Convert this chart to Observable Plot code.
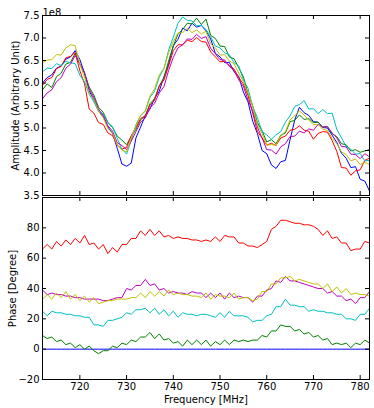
<!DOCTYPE html>
<html><head><meta charset="utf-8">
<script src="https://cdn.jsdelivr.net/npm/d3@7"></script>
<script src="https://cdn.jsdelivr.net/npm/@observablehq/plot@0.6"></script>
<style>
body{margin:0;background:#fff;}
#chart{position:relative;width:374px;height:408px;}
#chart svg{position:absolute;left:0;}
</style>
</head><body><div id="chart"></div>
<script>
const freqMHz = [712,713,714,715,716,717,718,719,720,721,722,723,724,725,726,727,728,729,730,731,732,733,734,735,736,737,738,739,740,741,742,743,744,745,746,747,748,749,750,751,752,753,754,755,756,757,758,759,760,761,762,763,764,765,766,767,768,769,770,771,772,773,774,775,776,777,778,779,780,781,782];
const seriesNames = ["blue","green","red","cyan","magenta","yellow"];
const seriesColors = ["#0000ff","#008000","#ff0000","#00bfbf","#bf00bf","#bfbf00"];
const freqTicks = [720,730,740,750,760,770,780];
const ampTicks = [3.5,4.0,4.5,5.0,5.5,6.0,6.5,7.0,7.5];
const phaseTicks = [-20,0,20,40,60,80,100];
const phaseTickLabels = [-20,0,20,40,60,80];

// Amplitude in units of 1e8
const ampBlue = [6.00,6.12,6.18,6.33,6.38,6.53,6.58,6.72,6.52,6.22,5.82,5.63,5.37,5.25,5.02,4.88,4.55,4.20,4.15,4.22,4.78,5.02,5.28,5.42,5.66,5.82,6.14,6.42,6.83,6.97,7.22,7.16,7.33,7.24,7.28,7.16,6.98,6.66,6.58,6.45,6.46,6.25,6.15,5.80,5.58,5.15,4.88,4.50,4.43,4.18,4.10,4.25,4.28,4.74,5.18,5.46,5.34,5.28,5.14,5.13,5.01,5.00,4.84,4.68,4.44,4.33,4.12,4.14,3.86,3.82,3.60];
const ampGreen = [5.85,5.98,5.90,6.14,6.22,6.42,6.46,6.66,6.42,6.21,5.91,5.73,5.46,5.35,5.12,5.01,4.82,4.73,4.63,4.81,4.97,5.18,5.27,5.54,5.65,5.94,6.12,6.49,6.82,7.09,7.19,7.33,7.31,7.44,7.30,7.42,7.06,6.99,6.82,6.81,6.58,6.54,6.34,6.14,5.76,5.49,5.12,4.94,4.69,4.74,4.65,4.84,4.89,5.14,5.17,5.29,5.19,5.21,5.12,5.13,5.02,5.03,4.87,4.81,4.65,4.63,4.49,4.52,4.46,4.49,4.52];
const ampRed = [5.95,6.08,6.12,6.32,6.37,6.56,6.59,6.68,6.27,5.98,5.42,5.33,5.12,5.08,4.89,4.83,4.62,4.53,4.57,4.83,5.02,5.21,5.27,5.51,5.62,5.93,6.07,6.38,6.72,6.85,6.85,6.95,6.92,7.01,6.92,6.91,6.69,6.58,6.47,6.48,6.39,6.31,6.12,5.98,5.72,5.33,4.92,4.78,4.62,4.66,4.61,4.78,4.82,4.95,4.97,5.05,4.95,4.93,4.75,4.88,4.92,4.91,4.72,4.48,4.12,4.11,3.95,4.05,4.07,4.28,4.33];
const ampCyan = [6.25,6.33,6.32,6.43,6.39,6.48,6.45,6.43,6.17,6.03,5.75,5.58,5.37,5.31,5.12,5.03,4.77,4.53,4.42,4.73,5.07,5.28,5.37,5.68,5.82,6.13,6.32,6.73,7.02,7.33,7.47,7.39,7.38,7.27,7.28,7.19,7.03,6.82,6.78,6.67,6.63,6.45,6.38,6.07,5.88,5.47,5.23,4.92,4.85,4.75,4.85,4.92,5.13,5.27,5.48,5.52,5.61,5.42,5.43,5.32,5.41,5.32,5.33,4.97,4.78,4.59,4.53,4.42,4.43,4.27,4.28];
const ampMagenta = [5.65,5.78,5.85,6.03,6.12,6.33,6.42,6.61,6.42,6.23,5.87,5.68,5.42,5.28,5.05,4.93,4.67,4.61,4.52,4.71,4.92,5.13,5.22,5.45,5.55,5.78,5.92,6.28,6.57,6.78,6.85,6.98,6.97,7.08,6.99,7.03,6.77,6.65,6.52,6.51,6.37,6.28,6.07,5.93,5.62,5.38,5.02,4.78,4.52,4.51,4.42,4.58,4.65,4.81,4.82,4.93,4.89,4.98,4.95,5.08,5.02,5.03,4.89,4.78,4.59,4.58,4.42,4.41,4.32,4.43,4.36];
const ampYellow = [6.45,6.51,6.52,6.63,6.62,6.78,6.85,6.83,6.42,6.13,5.77,5.63,5.37,5.23,4.99,4.88,4.62,4.51,4.47,4.78,5.05,5.28,5.39,5.71,5.87,6.18,6.32,6.68,6.92,7.11,7.12,7.21,7.12,7.18,7.09,7.15,6.87,6.78,6.62,6.63,6.49,6.43,6.22,6.03,5.77,5.48,5.07,4.88,4.62,4.63,4.62,4.83,4.92,5.18,5.27,5.38,5.29,5.18,5.07,5.08,4.97,4.95,4.77,4.65,4.47,4.41,4.27,4.31,4.19,4.23,4.19];

// Phase in degrees
const phaseBlue = [0,0,0,0,0,0,0,0,0,0,0,0,0,0,0,0,0,0,0,0,0,0,0,0,0,0,0,0,0,0,0,0,0,0,0,0,0,0,0,0,0,0,0,0,0,0,0,0,0,0,0,0,0,0,0,0,0,0,0,0,0,0,0,0,0,0,0,0,0,0,0];
const phaseGreen = [9,7,8,5,6,3,4,1,3,0,2,-1,-3,-1,-1,2,1,4,3,6,5,8,8,11,7,10,6,7,4,5,2,6,3,6,3,6,2,5,3,6,3,6,5,6,5,6,6,9,8,12,12,16,15,15,12,13,10,11,8,9,6,7,3,4,3,4,1,4,3,6,4];
const phaseRed = [66,69,66,71,68,72,69,73,70,75,69,70,66,69,63,67,64,69,69,73,73,78,75,79,75,78,74,75,73,74,73,73,72,72,71,72,71,74,71,75,74,74,70,70,68,68,67,69,71,79,81,85,85,84,83,83,82,82,81,79,75,78,73,74,70,70,65,66,66,71,70];
const phaseCyan = [25,22,25,24,24,23,23,22,22,21,21,16,16,15,19,19,20,21,24,23,26,26,27,24,27,23,26,22,25,21,24,23,23,22,23,23,22,21,24,21,25,22,22,22,21,18,19,19,22,23,28,28,33,29,29,28,28,25,26,25,25,24,24,23,23,20,20,19,23,23,27];
const phaseMagenta = [39,36,37,36,36,35,35,34,34,33,33,33,33,32,32,33,34,34,40,39,42,42,46,42,43,39,40,37,38,37,37,36,38,37,37,34,37,34,37,33,37,34,35,34,34,31,35,35,39,40,45,44,48,45,45,44,43,42,41,40,40,37,38,35,35,32,33,30,34,34,38];
const phaseYellow = [33,36,33,37,34,38,33,36,32,35,31,34,30,31,32,32,33,33,33,34,34,37,34,38,35,38,35,39,36,37,36,36,35,35,34,37,33,36,35,35,34,37,33,34,34,32,33,38,38,43,43,47,47,48,45,46,45,44,43,43,40,43,38,41,37,40,36,37,36,36,35];

const ampSeries = [ampBlue, ampGreen, ampRed, ampCyan, ampMagenta, ampYellow];
const phaseSeries = [phaseBlue, phaseGreen, phaseRed, phaseCyan, phaseMagenta, phaseYellow];

function toRows(arr, name) { return arr.map((v, i) => ({f: freqMHz[i], v, s: name})); }

const W = 374, ML = 42, MR = 5;
const TL = 4; // tick length px
const plotW = W - ML - MR;
const font = {fontFamily: "DejaVu Sans", fontSize: "10px", color: "black"};

function lineMarks(series) {
  return series.map((arr, k) => Plot.line(toRows(arr, seriesNames[k]), {x: "f", y: "v", stroke: seriesColors[k], strokeWidth: 1}));
}

// Top panel: amplitude
const topH = 196, topMT = 15, topMB = 1;
const topInner = topH - topMT - topMB;
const topPlot = Plot.plot({
  width: W, height: topH,
  marginLeft: ML, marginRight: MR, marginTop: topMT, marginBottom: topMB,
  x: {domain: [712, 782], axis: null},
  y: {domain: [3.5, 7.5], axis: null},
  style: {...font, background: "transparent", overflow: "visible"},
  marks: [
    ...lineMarks(ampSeries),
    Plot.tickY(ampTicks, {y: d => d, insetRight: plotW - TL, stroke: "black"}),
    Plot.tickY(ampTicks, {y: d => d, insetLeft: plotW - TL, stroke: "black"}),
    Plot.tickX(freqTicks, {x: d => d, insetBottom: topInner - TL, stroke: "black"}),
    Plot.tickX(freqTicks, {x: d => d, insetTop: topInner - TL, stroke: "black"}),
    Plot.frame({stroke: "black", strokeWidth: 1}),
    Plot.axisY(ampTicks, {tickSize: 0, tickPadding: 3, tickFormat: d3.format(".1f"), label: "Amplitude (Arbitrary Unit)", labelArrow: "none", labelAnchor: "center", labelOffset: 31}),
    Plot.text(["1e8"], {frameAnchor: "top-left", dy: -7, textAnchor: "start", fontSize: 10})
  ]
});

// Bottom panel: phase
const botH = 212, botMT = 1, botMB = 29;
const botInner = botH - botMT - botMB;
const botPlot = Plot.plot({
  width: W, height: botH,
  marginLeft: ML, marginRight: MR, marginTop: botMT, marginBottom: botMB,
  x: {domain: [712, 782], axis: null},
  y: {domain: [-20, 100], axis: null},
  style: {...font, background: "transparent", overflow: "visible"},
  marks: [
    ...lineMarks(phaseSeries),
    Plot.tickY(phaseTicks, {y: d => d, insetRight: plotW - TL, stroke: "black"}),
    Plot.tickY(phaseTicks, {y: d => d, insetLeft: plotW - TL, stroke: "black"}),
    Plot.tickX(freqTicks, {x: d => d, insetBottom: botInner - TL, stroke: "black"}),
    Plot.tickX(freqTicks, {x: d => d, insetTop: botInner - TL, stroke: "black"}),
    Plot.frame({stroke: "black", strokeWidth: 1}),
    Plot.axisY(phaseTickLabels, {tickSize: 0, tickPadding: 3, label: "Phase [Degree]", labelArrow: "none", labelAnchor: "center", labelOffset: 34}),
    Plot.axisX(freqTicks, {tickSize: 0, tickPadding: 3, label: "Frequency [MHz]", labelArrow: "none", labelAnchor: "center", labelOffset: 23})
  ]
});

// strip any direction arrows from axis labels
for (const svg of [topPlot, botPlot]) {
  svg.querySelectorAll("text, tspan").forEach(t => {
    if (t.childElementCount === 0 && /[↑↓→←]/.test(t.textContent)) {
      t.textContent = t.textContent.replace(/\s*[↑↓→←]\s*/g, "").trim();
    }
  });
}

const chart = document.getElementById("chart");
botPlot.style.top = "196px";
topPlot.style.top = "0px";
chart.appendChild(botPlot);
chart.appendChild(topPlot);
</script>
</body></html>
